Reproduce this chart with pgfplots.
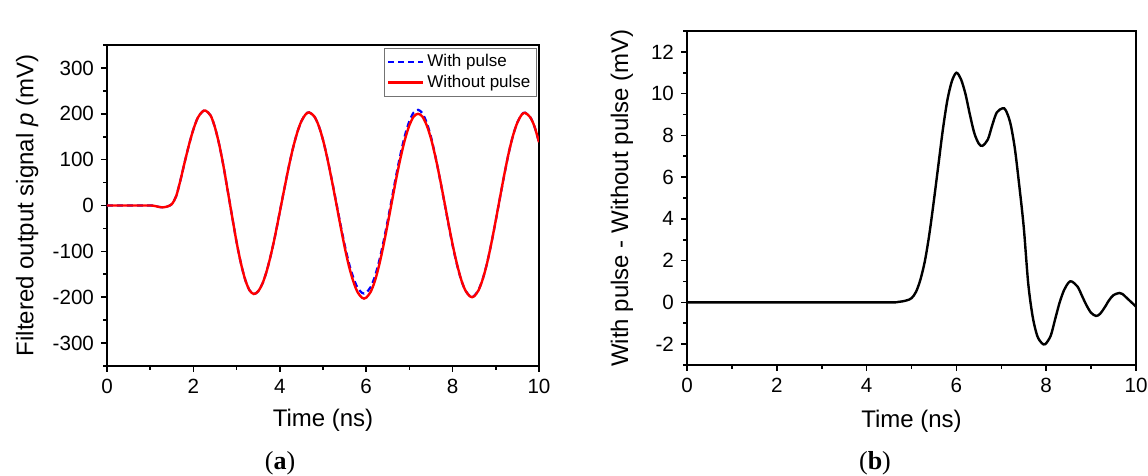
\documentclass[border=0pt]{standalone}
\usepackage{fontspec}
\setmainfont{Liberation Sans}
\newfontfamily\capfont{Liberation Serif}
\usepackage{pgfplots}
\pgfplotsset{compat=1.18}

% red: without pulse, blue: with pulse (mV)
\pgfplotstableread{
t p
0 0
0.5 0
1.0 0
1.1 -1
1.2 -3
1.3 -4
1.4 -2
1.5 3
1.6 20
1.7 55
1.8 95
1.9 133
2.0 166
2.1 191
2.2 204
2.28 207
2.4 196
2.5 170
2.6 132
2.7 84
2.8 29
2.9 -26
3.0 -80
3.1 -126
3.2 -162
3.3 -185
3.4 -193
3.5 -187
3.6 -170
3.7 -142
3.8 -105
3.9 -62
4.0 -14
4.1 34
4.2 81
4.3 123
4.4 158
4.5 184
4.6 199
4.68 203
4.8 194
4.9 174
5.0 143
5.1 103
5.2 57
5.3 8
5.4 -42
5.5 -90
5.6 -132
5.7 -165
5.8 -189
5.9 -201
5.95 -203
6.0 -201
6.1 -189
6.2 -165
6.3 -130
6.4 -87
6.5 -39
6.6 11
6.7 61
6.8 106
6.9 145
7.0 175
7.1 194
7.2 200
7.3 194
7.4 175
7.5 146
7.6 107
7.7 62
7.8 13
7.9 -37
8.0 -85
8.1 -127
8.2 -162
8.3 -186
8.4 -198
8.45 -200
8.5 -198
8.6 -185
8.7 -160
8.8 -125
8.9 -81
9.0 -32
9.1 19
9.2 69
9.3 115
9.4 153
9.5 181
9.6 198
9.68 202
9.8 192
9.9 171
10 138
}\nopulse

\pgfplotstableread{
t p
0 0
0.5 0
1.0 0
1.1 -1
1.2 -3
1.3 -4
1.4 -2
1.5 3
1.6 20
1.7 55
1.8 95
1.9 133
2.0 166
2.1 191
2.2 204
2.28 207
2.4 196
2.5 170
2.6 132
2.7 84
2.8 29
2.9 -26
3.0 -80
3.1 -126
3.2 -162
3.3 -185
3.4 -193
3.5 -187
3.6 -170
3.7 -142
3.8 -105
3.9 -62
4.0 -14
4.1 34
4.2 81
4.3 123
4.4 158
4.5 184
4.6 199
4.68 203
4.8 194
4.9 174
5.0 143
5.1 103.5
5.2 58
5.3 10
5.4 -38.7
5.5 -85
5.6 -125.4
5.7 -156.7
5.8 -179.3
5.9 -190.4
5.95 -192
6.0 -190
6.1 -178.3
6.2 -155
6.3 -121
6.4 -79
6.5 -31.4
6.6 18.5
6.7 68.8
6.8 114.5
6.9 154
7.0 184.3
7.1 203
7.2 208.6
7.3 201.4
7.4 180.6
7.5 149.6
7.6 108
7.7 61.3
7.8 11.4
7.9 -39
8.0 -87
8.1 -128.6
8.2 -162.8
8.3 -186
8.4 -197.4
8.45 -199.2
8.5 -197
8.6 -184
8.7 -159.3
8.8 -124.7
8.9 -81.2
9.0 -32.5
9.1 18.4
9.2 68.5
9.3 114.8
9.4 153.1
9.5 181.4
9.6 198.5
9.68 202.4
9.8 192.2
9.9 171
10 137.8
}\withpulse

% difference with pulse - without pulse (mV)
\pgfplotstableread{
t d
0 0
2 0
4 0
4.6 0
4.7 0.02
4.8 0.05
4.9 0.1
5.0 0.2
5.1 0.5
5.2 1.1
5.3 2.0
5.4 3.3
5.5 4.9
5.6 6.6
5.7 8.3
5.8 9.7
5.9 10.6
6.0 11.0
6.1 10.7
6.2 10.0
6.3 9.0
6.4 8.1
6.5 7.6
6.58 7.5
6.7 7.8
6.8 8.5
6.9 9.1
7.03 9.3
7.1 9.2
7.2 8.6
7.3 7.4
7.4 5.6
7.5 3.6
7.6 0.9
7.7 -0.7
7.8 -1.6
7.9 -1.95
7.98 -2.0
8.1 -1.6
8.2 -0.8
8.3 0.0
8.4 0.6
8.5 0.95
8.57 1.0
8.7 0.75
8.8 0.3
8.9 -0.15
9.0 -0.5
9.11 -0.65
9.2 -0.55
9.3 -0.25
9.4 0.1
9.5 0.35
9.63 0.45
9.7 0.4
9.8 0.2
9.9 0.0
10 -0.2
}\diff

\pgfplotsset{
  panel/.style={
    scale only axis,
    anchor=south west,
    axis line style={line width=1pt},
    tick style={line width=0.8pt, black},
    tick align=outside,
    tick pos=left,
    major tick length=3pt,
    minor tick length=1.8pt,
    xmin=0, xmax=10,
    xtick={0,2,...,10},
    minor xtick={1,3,...,9},
    ticklabel style={font=\fontsize{10.3}{11}\selectfont},
    label style={font=\fontsize{12}{14}\selectfont},
    /pgf/number format/assume math mode=true,
    xlabel={Time (ns)},
  }
}

\begin{document}
\begin{tikzpicture}
\path[use as bounding box] (0,0) rectangle (574pt,238pt);

\begin{axis}[panel,
  at={(53.5pt,55pt)},
  width=216pt, height=160.5pt,
  ymin=-350, ymax=350,
  ytick={-300,-200,...,300},
  minor ytick={-350,-250,...,350},
  xlabel style={at={(axis description cs:0.5,-0.168)}, anchor=center},
  ylabel style={at={(axis description cs:-0.185,0.5)}, anchor=center},
  ylabel={Filtered output signal \textit{p} (mV)},
  legend cell align=left,
  legend style={at={(0.995,0.99)}, anchor=north east, draw=gray!90!black,
    font=\fontsize{8.5}{9.5}\selectfont, inner sep=1pt, row sep=-1.5pt},
]
\addplot[blue, line width=1.1pt, dash pattern=on 3pt off 2pt, smooth] table[x=t, y=p] {\withpulse};
\addlegendentry{With pulse}
\addplot[red, line width=1.2pt, smooth] table[x=t, y=p] {\nopulse};
\addlegendentry{Without pulse}
\end{axis}

\begin{axis}[panel,
  at={(343.5pt,55.5pt)},
  width=224.5pt, height=167pt,
  ymin=-3, ymax=13,
  ytick={-2,0,...,12},
  minor ytick={-3,-1,...,13},
  xlabel style={at={(axis description cs:0.5,-0.168)}, anchor=center},
  ylabel style={at={(axis description cs:-0.145,0.5)}, anchor=center},
  ylabel={With pulse - Without pulse (mV)},
]
\addplot[black, line width=1.2pt, smooth] table[x=t, y=d] {\diff};
\end{axis}

\node[font=\capfont\fontsize{13}{15}\selectfont] at (140pt,6.5pt) {(\textbf{a})};
\node[font=\capfont\fontsize{13}{15}\selectfont] at (437.5pt,6.5pt) {(\textbf{b})};
\end{tikzpicture}
\end{document}
